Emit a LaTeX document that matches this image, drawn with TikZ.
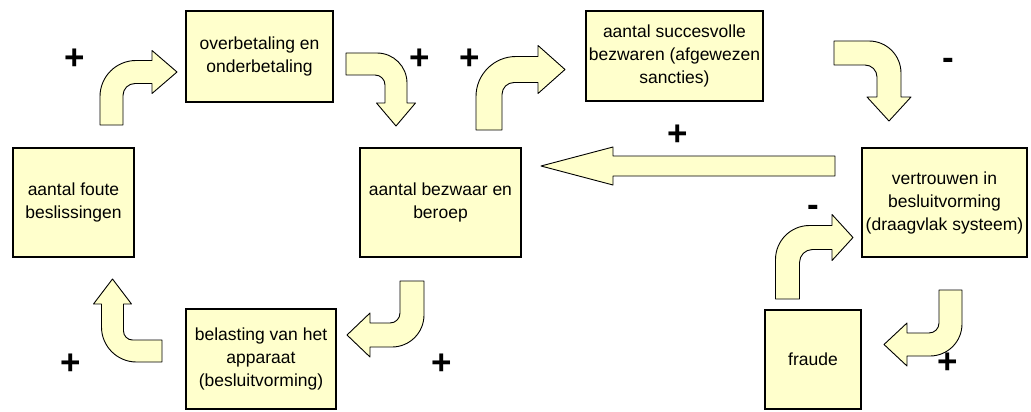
\documentclass[tikz,border=0pt]{standalone}
\usepackage{fontspec}
\setmainfont{Liberation Sans}
\definecolor{boxfill}{HTML}{FFFFCC}
\tikzset{
  box/.style={draw=black, line width=2.5pt, fill=boxfill, align=center,
    font=\fontsize{17.5}{23}\selectfont, inner sep=0pt, text=black},
  barrow/.style={draw=black, line width=0.9pt, fill=boxfill, line join=round},
  sign/.style={font=\fontsize{35}{35}\selectfont\bfseries, inner sep=0pt, anchor=base}
}
% canonical bent arrow: tail at bottom, goes up, turns right (image coords, y down)
% #1 w, #2 tail length, #3 head base, #4 head length, #5 head overhang, #6 outer radius, #7 inner radius
\newcommand{\bentarrowshape}[7]{%
  \draw[barrow] (0,#2) -- (0,#6)
    .. controls (0,{0.448*#6}) and ({0.448*#6},0) .. (#6,0)
    -- (#3,0) -- (#3,-#5) -- ({#3+#4},{#1/2}) -- (#3,{#1+#5}) -- (#3,#1)
    -- ({#1+#7},#1)
    .. controls ({#1+0.448*#7},#1) and (#1,{#1+0.448*#7}) .. (#1,{#1+#7})
    -- (#1,#2) -- cycle;}
\begin{document}
\begin{tikzpicture}[x=1pt,y=-1pt]
\useasboundingbox (0,0) rectangle (1031,412);

% boxes
\node[box, minimum width=147pt, minimum height=91pt] (ob) at (259.5,56.5) {overbetaling en\\onderbetaling};
\node[box, minimum width=177pt, minimum height=90pt] (sb) at (674.5,56) {aantal succesvolle\\bezwaren (afgewezen\\sancties)};
\node[box, minimum width=121pt, minimum height=109pt] (fb) at (73.5,202.5) {aantal foute\\beslissingen};
\node[box, minimum width=161pt, minimum height=109pt] (bb) at (440.5,202.5) {aantal bezwaar en\\beroep};
\node[box, minimum width=165pt, minimum height=109pt] (vb) at (944.5,202.5) {vertrouwen in\\besluitvorming\\(draagvlak systeem)};
\node[box, minimum width=150pt, minimum height=100pt] (bv) at (261,359) {belasting van het\\apparaat\\(besluitvorming)};
\node[box, minimum width=96pt, minimum height=99pt] (fr) at (813,359.5) {fraude};

% bent arrows
\begin{scope}[shift={(100,60.5)}]\bentarrowshape{23}{64.5}{52}{25}{10}{36}{12}\end{scope}
\begin{scope}[shift={(407,53)},rotate=-90]\bentarrowshape{22}{61}{50}{23}{8.5}{30}{10}\end{scope}
\begin{scope}[shift={(476,56.5)}]\bentarrowshape{26}{73.5}{62}{27}{11}{40}{12}\end{scope}
\begin{scope}[shift={(901,41)},rotate=-90]\bentarrowshape{24}{67}{56}{24}{10}{32}{12}\end{scope}
\begin{scope}[shift={(775.5,225.5)}]\bentarrowshape{24}{73.5}{56.5}{21}{11}{34}{13}\end{scope}
\begin{scope}[shift={(962,356)},rotate=180]\bentarrowshape{23}{66}{55}{23}{10}{32}{10}\end{scope}
\begin{scope}[shift={(101.5,362)},rotate=90]\bentarrowshape{22}{60.5}{58}{25}{8}{35}{9}\end{scope}
\begin{scope}[shift={(424,347)},rotate=180]\bentarrowshape{24}{66}{54}{23}{10}{32}{10}\end{scope}

% big straight arrow
\draw[barrow] (835,156) -- (613,156) -- (613,147) -- (541,166) -- (613,185) -- (613,176) -- (835,176) -- cycle;

% signs
\node[sign] (p1) at (75,69.6) {+};
\node[sign] (p2) at (420,69.6) {+};
\node[sign] (p3) at (470,69.6) {+};
\node[sign] (m1) at (948,69.5) {-};
\node[sign] (p4) at (678,145.6) {+};
\node[sign] (m2) at (813,216.5) {-};
\node[sign] (p5) at (948,373.6) {+};
\node[sign] (p6) at (71,374.6) {+};
\node[sign] (p7) at (442,374.6) {+};
\end{tikzpicture}
\end{document}
